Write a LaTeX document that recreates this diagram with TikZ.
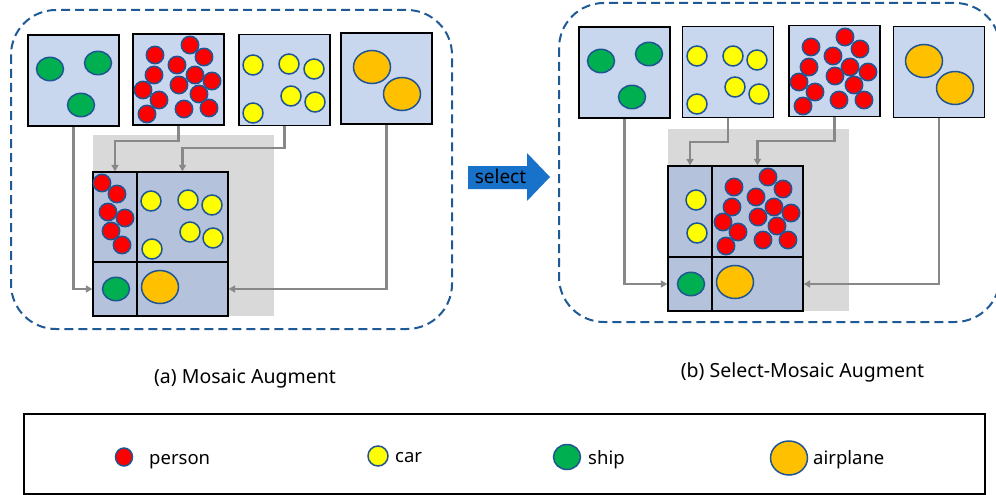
\documentclass[tikz,border=0pt]{standalone}
\usepackage{fontspec}
\setmainfont{Noto Sans}
\usetikzlibrary{arrows.meta,calc}
\definecolor{boxfill}{HTML}{C8D6EE}
\definecolor{mosfill}{HTML}{B4C2DC}
\definecolor{shadegray}{HTML}{D9D9D9}
\definecolor{conngray}{HTML}{888888}
\definecolor{dashblue}{HTML}{1F5A96}
\definecolor{objborder}{HTML}{1F5592}
\definecolor{pred}{HTML}{FF0000}
\definecolor{cyel}{HTML}{FFFF00}
\definecolor{sgreen}{HTML}{00B050}
\definecolor{aorange}{HTML}{FFC000}
\definecolor{selblue}{HTML}{1872C9}
\newcommand{\objP}[1]{\filldraw[obj,fill=pred] #1 circle[radius=8.7pt];}
\newcommand{\objC}[1]{\filldraw[obj,fill=cyel] #1 circle[radius=10pt];}
\newcommand{\objS}[1]{\filldraw[obj,fill=sgreen] #1 ellipse[x radius=13.5pt,y radius=11.7pt];}
\newcommand{\objA}[1]{\filldraw[obj,fill=aorange] #1 ellipse[x radius=18.5pt,y radius=16.5pt];}
\begin{document}
\begin{tikzpicture}[x=1pt,y=-1pt,
  tile/.style={draw=black,line width=1.3pt,fill=boxfill,minimum width=91pt,minimum height=91pt,inner sep=0pt},
  cell/.style={draw=black,line width=1.3pt,fill=mosfill,inner sep=0pt},
  conn/.style={draw=conngray,line width=2.2pt,-{Triangle[length=6.5pt,width=7pt]}},
  obj/.style={draw=objborder,line width=1.5pt},
  dashbox/.style={draw=dashblue,line width=2pt,dash pattern=on 9pt off 5pt,rounded corners=45pt},
  caption/.style={font=\fontsize{19.5}{22}\selectfont,anchor=base},
  legtext/.style={font=\fontsize{18.5}{22}\selectfont,anchor=base west,inner sep=0pt}]
\useasboundingbox (0,0) rectangle (996,495);
\begin{scope}
\clip (0,0) rectangle (996,495);
% dashed frames
\draw[dashbox] (11,10) rectangle (452,329);
\draw[dashbox] (559,3) rectangle (1000,322);
\end{scope}
% shadows
\fill[shadegray] (93,135) rectangle (274,316);
\fill[shadegray] (668,129) rectangle (849,311);
% ---------- (a) ----------
\node[tile] (aS) at (73.5,80.5) {};
\node[tile] (aP) at (178.5,79.5) {};
\node[tile] (aC) at (284.5,80) {};
\node[tile] (aA) at (386.5,78.5) {};
\node[cell,minimum width=44pt,minimum height=90pt] (aTL) at (115,217) {};
\node[cell,minimum width=91pt,minimum height=90pt] (aTR) at (182.5,217) {};
\node[cell,minimum width=44pt,minimum height=54pt] (aBL) at (115,289) {};
\node[cell,minimum width=91pt,minimum height=54pt] (aBR) at (182.5,289) {};
\foreach \p in {(190,45),(155,55),(204,57),(177,65),(154,75),(195,75),(212,81),(179,85),(143,90),(199,94),(159,100),(184,109),(209,108),(147,114)} {\objP{\p}}
\foreach \p in {(253,65),(289,64),(314,69),(291,96),(315,102),(253,113)} {\objC{\p}}
\foreach \p in {(50,69),(98,63),(81,105)} {\objS{\p}}
\foreach \p in {(372,67),(402,94)} {\objA{\p}}
\foreach \p in {(102,183),(117,194),(108,212),(125,218),(111,231),(122,245)} {\objP{\p}}
\foreach \p in {(151,201),(188,200),(212,205),(190,232),(213,238),(152,249)} {\objC{\p}}
\objS{(116,289)}
\objA{(160,287)}
\draw[conn] (aS.south) |- (aBL.west);
\draw[conn] (aP.south) -- ++(0,15) -| (aTL.north);
\draw[conn] (aC.south) -- ++(0,22) -| (aTR.north);
\draw[conn] (aA.south) |- (aBR.east);
% ---------- (b) ----------
\node[tile] (bS) at (624.5,72.5) {};
\node[tile] (bC) at (728,72) {};
\node[tile] (bP) at (834.5,71) {};
\node[tile] (bA) at (939,72) {};
\node[cell,minimum width=44pt,minimum height=91pt] (bTL) at (690,211.5) {};
\node[cell,minimum width=91pt,minimum height=91pt] (bTR) at (757.5,211.5) {};
\node[cell,minimum width=44pt,minimum height=54pt] (bBL) at (690,284) {};
\node[cell,minimum width=91pt,minimum height=54pt] (bBR) at (757.5,284) {};
\foreach \p in {(601,61),(649,54),(632,97)} {\objS{\p}}
\foreach \p in {(697,56),(733,56),(757,60),(735,87),(759,94),(697,104)} {\objC{\p}}
\foreach \p in {(845,37),(811,47),(860,49),(833,56),(809,67),(850,67),(868,72),(835,76),(799,82),(854,85),(815,92),(839,100),(864,100),(803,106)} {\objP{\p}}
\foreach \p in {(924,61),(955,88)} {\objA{\p}}
\foreach \p in {(696,200),(697,233)} {\objC{\p}}
\foreach \p in {(768,177),(734,187),(783,189),(756,197),(732,207),(774,207),(791,213),(758,217),(723,222),(777,226),(738,232),(763,240),(788,240),(726,246)} {\objP{\p}}
\objS{(691,284)}
\objA{(735,282)}
\draw[conn] (bS.south) |- (bBL.west);
\draw[conn] (bC.south) -- ++(0,24) -| (bTL.north);
\draw[conn] (bP.south) -- ++(0,24) -| (bTR.north);
\draw[conn] (bA.south) |- (bBR.east);
% select arrow
\fill[selblue] (468,166) -- (527,166) -- (527,153) -- (550,177) -- (527,201) -- (527,189) -- (468,189) -- cycle;
\node[font=\fontsize{19}{22}\selectfont,inner sep=0pt] (sel) at (500.5,176) {select};
% captions
\node[caption] (capa) at (245,383) {(a) Mosaic Augment};
\node[caption] (capb) at (802.5,377) {(b) Select-Mosaic Augment};
% legend
\draw[line width=2pt] (24,414) rectangle (985,494);
\filldraw[obj,fill=pred] (124,457) ellipse[x radius=8.5pt,y radius=9pt];
\node[legtext] (lp) at (149,464) {person};
\objC{(378,456)}
\node[legtext] (lc) at (395,462) {car};
\filldraw[obj,fill=sgreen] (567,457) ellipse[x radius=13.5pt,y radius=12.5pt];
\node[legtext] (ls) at (588,464) {ship};
\filldraw[obj,fill=aorange] (789,458) ellipse[x radius=18.5pt,y radius=17pt];
\node[legtext] (la) at (813,464) {airplane};
\end{tikzpicture}
\end{document}
